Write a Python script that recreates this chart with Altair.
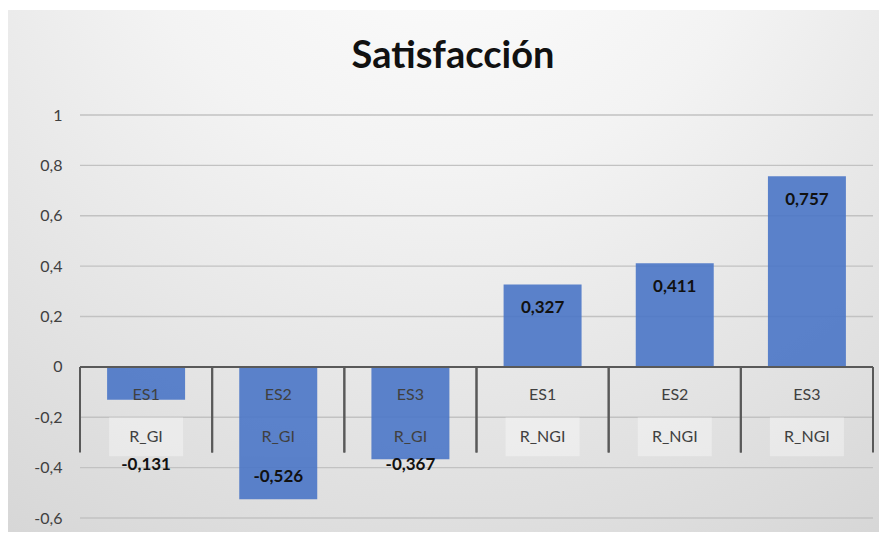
import altair as alt
import pandas as pd

# --- data ---
estudios = ["ES1", "ES2", "ES3", "ES1", "ES2", "ES3"]
grupos = ["R_GI", "R_GI", "R_GI", "R_NGI", "R_NGI", "R_NGI"]
valores = [-0.131, -0.526, -0.367, 0.327, 0.411, 0.757]
ticks_y = [-0.6, -0.4, -0.2, 0, 0.2, 0.4, 0.6, 0.8, 1.0]
titulo = "Satisfacción"

df = pd.DataFrame({"es": estudios, "grupo": grupos, "valor": valores})
df["clave"] = df["es"] + " " + df["grupo"]
orden = list(df["clave"])

W, H = 793, 403
FONT = "Lato"
yscale = alt.Scale(domain=[-0.6, 1.0], nice=False, zero=False)


def xenc(bp=None):
    kw = dict(sort=orden, axis=None, scale=alt.Scale(paddingInner=0, paddingOuter=0))
    if bp is not None:
        kw["bandPosition"] = bp
    return alt.X("clave:N", **kw)


fondo = alt.Chart(pd.DataFrame({"a": [0]})).mark_rect(
    fill=alt.Gradient(
        gradient="radial",
        stops=[alt.GradientStop(color="#ffffff", offset=0),
               alt.GradientStop(color="#f3f3f3", offset=0.4),
               alt.GradientStop(color="#d6d6d6", offset=1)],
        x1=0.5, y1=0.0, r1=0, x2=0.5, y2=0.0, r2=0.95,
    )
).encode(x=alt.value(-75), x2=alt.value(W + 14), y=alt.value(-105), y2=alt.value(H + 20))

grid = alt.Chart(pd.DataFrame({"t": ticks_y})).mark_rule(
    color="#c2c2c2", strokeWidth=1.3
).encode(
    y=alt.Y("t:Q", scale=yscale,
            axis=alt.Axis(values=ticks_y, grid=False, domain=False, ticks=False,
                          labelExpr="replace(replace(format(datum.value, '.1~f'), '.', ','), '\u2212', '-')",
                          labelFontSize=16, labelColor="#404040", labelFont=FONT,
                          labelPadding=18, title=None, zindex=1))
)

cajas = alt.Chart(df).mark_bar(
    width=alt.RelativeBandSize(0.56), color="#ffffff", opacity=0.35
).encode(x=xenc(), y=alt.datum(-0.2, scale=yscale), y2=alt.datum(-0.355))

barras = alt.Chart(df).mark_bar(
    width=alt.RelativeBandSize(0.59), color="#4a76c6", opacity=0.9
).encode(x=xenc(), y=alt.Y("valor:Q", scale=yscale))

cero = alt.Chart(pd.DataFrame({"t": [0]})).mark_rule(
    color="#595959", strokeWidth=2
).encode(y=alt.Y("t:Q", scale=yscale))

sep0 = alt.Chart(df).mark_rule(color="#595959", strokeWidth=2).encode(
    x=xenc(0), y=alt.datum(0, scale=yscale), y2=alt.datum(-0.34))
sep1 = alt.Chart(df).mark_rule(color="#595959", strokeWidth=2).encode(
    x=xenc(1), y=alt.datum(0, scale=yscale), y2=alt.datum(-0.34))

txt_es = alt.Chart(df).mark_text(fontSize=16, color="#404040", font=FONT).encode(
    x=xenc(), y=alt.datum(-0.111, scale=yscale), text="es:N")
txt_gr = alt.Chart(df).mark_text(fontSize=16, color="#404040", font=FONT).encode(
    x=xenc(), y=alt.datum(-0.278, scale=yscale), text="grupo:N")

valores_txt = alt.Chart(df).transform_calculate(
    etiqueta="replace(replace(format(datum.valor, '.3f'), '.', ','), '\u2212', '-')",
    ypos="datum.valor > 0 ? datum.valor - 0.095 : min(datum.valor + 0.09, -0.39)",
).mark_text(fontSize=17, fontWeight="bold", color="#111111", font=FONT).encode(
    x=xenc(), y=alt.Y("ypos:Q", scale=yscale), text="etiqueta:N")

titulo_txt = alt.Chart(pd.DataFrame({"t": [titulo]})).mark_text(
    fontSize=38, fontWeight="bold", font=FONT, color="#111111",
    align="center", baseline="middle"
).encode(text="t:N", x=alt.value(373), y=alt.value(-58))

chart = alt.layer(
    fondo, grid, cajas, barras, cero, sep0, sep1, txt_es, txt_gr, valores_txt, titulo_txt
).properties(
    width=W, height=H,
    autosize=alt.AutoSizeParams(type="none"),
    padding={"left": 72, "top": 107, "right": 6, "bottom": 14},
    background="#ffffff",
).configure_view(stroke=None)

chart.save("out.html", embed_options={"renderer": "svg", "actions": False})
